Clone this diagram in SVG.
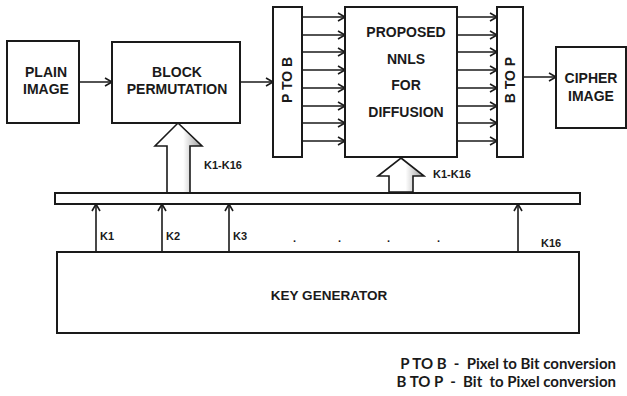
<svg xmlns="http://www.w3.org/2000/svg" width="627" height="396" viewBox="0 0 627 396">
<style>
.box{fill:#fff;stroke:#1a1a1a;stroke-width:2}
.t{font-family:"Liberation Sans",Arial,sans-serif;font-weight:bold;fill:#1a1a1a;text-anchor:middle}
.b14{font-size:14px}
.k{font-family:"Liberation Sans",Arial,sans-serif;font-weight:bold;font-size:11px;fill:#1a1a1a}
.ln{stroke:#1a1a1a;stroke-width:1.6;fill:none}
.arr{marker-end:url(#ah)}
.hol{fill:url(#hg);stroke:#1a1a1a;stroke-width:1.6;stroke-linejoin:miter}
.leg{font-family:Lato,"Open Sans",sans-serif;font-weight:bold;font-size:15px;fill:#1a1a1a;text-anchor:end;white-space:pre}
</style>
<defs>
<marker id="ah" markerUnits="userSpaceOnUse" markerWidth="12" markerHeight="12" refX="8" refY="5" orient="auto">
<path d="M1,1 L8,5 L1,9" fill="none" stroke="#1a1a1a" stroke-width="1.6"/>
</marker>
<linearGradient id="hg" x1="0" y1="0" x2="1" y2="0">
<stop offset="0" stop-color="#ffffff"/>
<stop offset="0.6" stop-color="#ffffff"/>
<stop offset="1" stop-color="#9a9a9a"/>
</linearGradient>
</defs>

<g id="connectors">
<line class="ln arr" x1="79" y1="82" x2="112" y2="82"/>
<line class="ln arr" x1="240" y1="82" x2="273" y2="82"/>
<line class="ln arr" x1="302" y1="17" x2="345" y2="17"/>
<line class="ln arr" x1="302" y1="35" x2="345" y2="35"/>
<line class="ln arr" x1="302" y1="52" x2="345" y2="52"/>
<line class="ln arr" x1="302" y1="70" x2="345" y2="70"/>
<line class="ln arr" x1="302" y1="88" x2="345" y2="88"/>
<line class="ln arr" x1="302" y1="106" x2="345" y2="106"/>
<line class="ln arr" x1="302" y1="123" x2="345" y2="123"/>
<line class="ln arr" x1="302" y1="141" x2="345" y2="141"/>
<line class="ln arr" x1="457" y1="17" x2="497" y2="17"/>
<line class="ln arr" x1="457" y1="35" x2="497" y2="35"/>
<line class="ln arr" x1="457" y1="52" x2="497" y2="52"/>
<line class="ln arr" x1="457" y1="70" x2="497" y2="70"/>
<line class="ln arr" x1="457" y1="88" x2="497" y2="88"/>
<line class="ln arr" x1="457" y1="106" x2="497" y2="106"/>
<line class="ln arr" x1="457" y1="123" x2="497" y2="123"/>
<line class="ln arr" x1="457" y1="141" x2="497" y2="141"/>
<line class="ln arr" x1="523" y1="77" x2="556" y2="77"/>
<line class="ln arr" x1="96" y1="252" x2="96" y2="204"/>
<line class="ln arr" x1="162" y1="252" x2="162" y2="204"/>
<line class="ln arr" x1="229" y1="252" x2="229" y2="204"/>
<line class="ln arr" x1="518" y1="252" x2="518" y2="204"/>
<path class="hol" d="M178,123 L202,146 L190,146 L190,193 L167,193 L167,146 L155,146 Z"/>
<path class="hol" d="M401,158 L424,176 L413,176 L413,192 L389,192 L389,176 L378,176 Z"/>
<text class="k" x="204" y="169">K1-K16</text>
<text class="k" x="433" y="178">K1-K16</text>
<text class="k" x="100" y="240">K1</text>
<text class="k" x="166" y="240">K2</text>
<text class="k" x="233" y="240">K3</text>
<text class="k" x="541" y="247">K16</text>
<text class="k" x="293" y="242">.</text>
<text class="k" x="338" y="242">.</text>
<text class="k" x="387" y="242">.</text>
<text class="k" x="437" y="242">.</text>
</g>

<g id="plain-image">
<rect class="box" x="7" y="41" width="72" height="82"/>
<text class="t b14" x="46" y="77">PLAIN</text>
<text class="t b14" x="46" y="94">IMAGE</text>
</g>

<g id="block-permutation">
<rect class="box" x="112" y="42" width="128" height="81"/>
<text class="t b14" x="177" y="77">BLOCK</text>
<text class="t b14" x="177" y="94" font-size="13.5">PERMUTATION</text>
</g>

<g id="p-to-b">
<rect class="box" x="273" y="7" width="29" height="150"/>
<text class="t b14" transform="translate(292,80) rotate(-90)" x="0" y="0">P TO B</text>
</g>

<g id="proposed-nnls">
<rect class="box" x="345" y="7" width="112" height="150"/>
<text class="t b14" x="406" y="37">PROPOSED</text>
<text class="t b14" x="406" y="64">NNLS</text>
<text class="t b14" x="406" y="90">FOR</text>
<text class="t b14" x="406" y="117">DIFFUSION</text>
</g>

<g id="b-to-p">
<rect class="box" x="497" y="7" width="26" height="150"/>
<text class="t b14" transform="translate(515,80) rotate(-90)" x="0" y="0">B TO P</text>
</g>

<g id="cipher-image">
<rect class="box" x="556" y="47" width="70" height="81"/>
<text class="t b14" x="591" y="83">CIPHER</text>
<text class="t b14" x="591" y="101">IMAGE</text>
</g>

<g id="key-bus">
<rect class="box" x="55" y="193" width="525" height="11"/>
</g>

<g id="key-generator">
<rect class="box" x="57" y="252" width="522" height="81"/>
<text class="t" x="329" y="300" font-size="13.5">KEY GENERATOR</text>
</g>

<g id="legend">
<text class="leg" x="616" y="369" xml:space="preserve">P TO B  -  Pixel to Bit conversion</text>
<text class="leg" x="616" y="387" xml:space="preserve">B TO P  -  Bit  to Pixel conversion</text>
</g>
</svg>
